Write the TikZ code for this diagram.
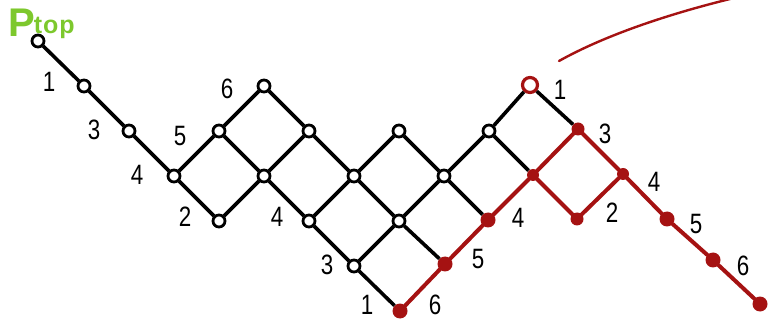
\documentclass[tikz,border=0pt]{standalone}
\usepackage{fontspec}
\setmainfont{Liberation Sans}
\newfontfamily\labfont[FakeStretch=0.8]{Liberation Sans}
\definecolor{dred}{RGB}{165,18,18}
\definecolor{pgreen}{RGB}{125,200,45}
\begin{document}
\begin{tikzpicture}[x=1pt,y=-1pt,
  bn/.style={circle,draw=black,fill=white,line width=2.8pt,inner sep=0pt,minimum size=12pt},
  rn/.style={circle,fill=dred,inner sep=0pt,minimum size=15pt},
  rtop/.style={circle,draw=dred,fill=white,line width=3.2pt,inner sep=0pt,minimum size=15pt},
  bl/.style={line width=3.6pt,black},
  rl/.style={line width=4pt,dred,line cap=round,line join=round},
  lab/.style={inner sep=0pt,font=\labfont\fontsize{28}{28}\selectfont}]
\useasboundingbox (0,0) rectangle (768,320);
% black nodes
\node[bn] (a0) at (38,41) {};
\node[bn] (a1) at (84,86) {};
\node[bn] (a2) at (129,131) {};
\node[bn] (a3) at (174,176) {};
\node[bn] (b1) at (219,131) {};
\node[bn] (b0) at (264,86) {};
\node[bn] (c2) at (219,221) {};
\node[bn] (c1) at (264,176) {};
\node[bn] (c0) at (309,131) {};
\node[bn] (d2) at (309,221) {};
\node[bn] (d1) at (354,176) {};
\node[bn] (d0) at (399,131) {};
\node[bn] (e2) at (354,266) {};
\node[bn] (e1) at (399,221) {};
\node[bn] (e0) at (444,176) {};
\node[bn] (f0) at (489,131) {};
% red nodes
\node[rtop] (t) at (530,85) {};
\node[rn] (r0) at (400,311) {};
\node[rn] (r1) at (445,264) {};
\node[rn] (r2) at (488,220) {};
\node[rn,minimum size=12pt] (r3) at (533,175) {};
\node[rn,minimum size=13pt] (r4) at (578,129) {};
\node[rn,minimum size=13pt] (r5) at (577,219) {};
\node[rn,minimum size=12pt] (r6) at (623,174) {};
\node[rn] (r7) at (667,219) {};
\node[rn] (r8) at (713,260) {};
\node[rn] (r9) at (760,304) {};
% black edges
\draw[bl] (a0) -- (a1) -- (a2) -- (a3);
\draw[bl] (a3) -- (b1) -- (b0) -- (c0);
\draw[bl] (a3) -- (c2) -- (c1) -- (b1);
\draw[bl] (c1) -- (c0) -- (d1) -- (d0) -- (e0) -- (f0) -- (t) -- (r4);
\draw[bl] (c1) -- (d2) -- (d1) -- (e1) -- (e0) -- (r2);
\draw[bl] (d2) -- (e2) -- (e1) -- (r1);
\draw[bl] (e2) -- (r0);
\draw[bl] (f0) -- (r3);
% red edges
\draw[rl] (r0) -- (r1) -- (r2) -- (r3) -- (r4) -- (r6) -- (r7) -- (r8) -- (r9);
\draw[rl] (r3) -- (r5) -- (r6);
% red stroke
\coordinate (s0) at (559,61);
\coordinate (s1) at (734,-2);
\draw[dred,line width=2.4pt,line cap=round] (s0) .. controls (600,38) and (660,16) .. (s1);
% labels
\node[lab] (l1) at (49,82) {1};
\node[lab] (l2) at (94,130) {3};
\node[lab] (l3) at (137,175) {4};
\node[lab] (l4) at (180,136) {5};
\node[lab] (l5) at (227,89) {6};
\node[lab] (l6) at (185,217) {2};
\node[lab] (l7) at (277,217) {4};
\node[lab] (l8) at (327,265) {3};
\node[lab] (l9) at (367,305) {1};
\node[lab] (l10) at (435,305) {6};
\node[lab] (l11) at (478,259) {5};
\node[lab] (l12) at (518,218) {4};
\node[lab] (l13) at (560,90) {1};
\node[lab] (l14) at (605,134) {3};
\node[lab] (l15) at (612,213) {2};
\node[lab] (l16) at (654,182) {4};
\node[lab] (l17) at (696,224) {5};
\node[lab] (l18) at (743,266) {6};
% Ptop
\node[anchor=base west,inner sep=0pt,text=pgreen,font=\bfseries] (ptop) at (8,37)
  {\fontsize{40}{40}\selectfont P\fontsize{25}{25}\selectfont\kern-1pt\raisebox{3pt}{t\kern1pt o\kern1pt p}};
\end{tikzpicture}
\end{document}
